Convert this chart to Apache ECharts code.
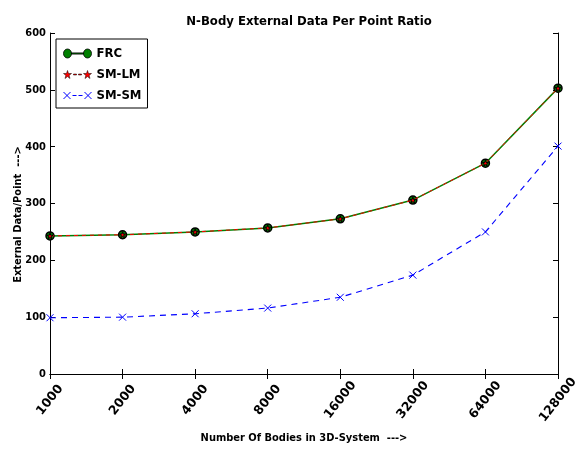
<!DOCTYPE html>
<html>
<head>
<meta charset="utf-8">
<script src="https://cdn.jsdelivr.net/npm/echarts@6/dist/echarts.min.js"></script>
<style>
  html, body { margin: 0; padding: 0; background: #fff; }
  #chart { width: 587px; height: 450px; }
</style>
</head>
<body>
<div id="chart"></div>
<script>
// Problem sizes (number of bodies)
const bodies = ['1000', '2000', '4000', '8000', '16000', '32000', '64000', '128000'];
// External data per point for each scheme
const frc   = [243, 245, 250, 257, 273, 306, 371, 503];
const smLm  = [243, 245, 250, 257, 273, 306, 371, 503];
const smSm  = [99, 100, 106, 116, 135, 174, 250, 401];
const yTicks = [0, 100, 200, 300, 400, 500, 600];

const FONT = 'DejaVu Sans Condensed, DejaVu Sans';
const FONT_WIDE = 'DejaVu Sans';
const starPath = 'path://M50,0 L61,35 L98,35 L68,57 L79,91 L50,70 L21,91 L32,57 L2,35 L39,35 Z';
const crossPath = 'path://M0,0 L10,10 M10,0 L0,10';

// Legend glyphs: a short line segment with a marker at each end (28 x 9 box)
const legendFrc = 'path://M0,4.5 A4,4.5 0 1,0 8,4.5 A4,4.5 0 1,0 0,4.5 Z ' +
  'M8,3.9 L20,3.9 L20,5.1 L8,5.1 Z ' +
  'M20,4.5 A4,4.5 0 1,0 28,4.5 A4,4.5 0 1,0 20,4.5 Z';
const legendSmLm = 'path://M4,0.5 L5,3.5 L8,3.5 L5.6,5.4 L6.5,8.5 L4,6.6 L1.5,8.5 L2.4,5.4 L0,3.5 L3,3.5 Z ' +
  'M10,4 L13,4 L13,5 L10,5 Z M15,4 L18,4 L18,5 L15,5 Z ' +
  'M24,0.5 L25,3.5 L28,3.5 L25.6,5.4 L26.5,8.5 L24,6.6 L21.5,8.5 L22.4,5.4 L20,3.5 L23,3.5 Z';
const legendSmSm = 'path://M0,1 L7,8 M7,1 L0,8 M9,4.5 L13,4.5 M15,4.5 L19,4.5 M21,1 L28,8 M28,1 L21,8';

const chart = echarts.init(document.getElementById('chart'));
const axisLine = { show: true, lineStyle: { color: '#000', width: 1 } };
const tickStyle = { show: true, inside: true, length: 5, lineStyle: { color: '#000', width: 1 } };

chart.setOption({
  animation: false,
  backgroundColor: '#fff',
  title: {
    text: 'N-Body External Data Per Point Ratio',
    left: 304, top: 10, textAlign: 'center',
    textStyle: { fontFamily: FONT, fontWeight: 'bold', fontSize: 13, color: '#000' }
  },
  grid: { left: 50, right: 29, top: 33, bottom: 76, containLabel: false, outerBoundsMode: 'none' },
  legend: {
    left: 56, top: 39, orient: 'vertical',
    backgroundColor: '#fff', borderColor: '#000', borderWidth: 1,
    padding: [8, 6, 6, 5], itemGap: 8, itemWidth: 28, itemHeight: 9,
    textStyle: { fontFamily: FONT, fontWeight: 'bold', fontSize: 13, color: '#000' },
    data: [
      { name: 'FRC', icon: legendFrc, itemStyle: { color: '#008000', borderColor: '#000', borderWidth: 0.8 } },
      { name: 'SM-LM', icon: legendSmLm, itemStyle: { color: '#ff0000', borderColor: '#000', borderWidth: 0.5 } },
      { name: 'SM-SM', icon: legendSmSm, itemStyle: { color: 'none', borderColor: '#0000ff', borderWidth: 1 } }
    ]
  },
  xAxis: [{
    type: 'category', data: bodies, boundaryGap: false,
    name: 'Number Of Bodies in 3D-System  --->', nameLocation: 'middle', nameGap: 59,
    nameTextStyle: { fontFamily: FONT, fontWeight: 'bold', fontSize: 11, color: '#000' },
    axisLine, axisTick: tickStyle,
    axisLabel: { rotate: 52, margin: 26, align: 'center', verticalAlign: 'middle',
      fontFamily: FONT_WIDE, fontWeight: 'bold', fontSize: 12.5, color: '#000' },
    splitLine: { show: false }
  }, {
    type: 'category', data: bodies, boundaryGap: false, position: 'top',
    axisLine, axisTick: tickStyle, axisLabel: { show: false }, splitLine: { show: false }
  }],
  yAxis: [{
    type: 'value', min: 0, max: 600, interval: 100,
    name: 'External Data/Point  --->', nameLocation: 'middle', nameGap: 26,
    nameMoveOverlap: false,
    nameTextStyle: { fontFamily: FONT, fontWeight: 'bold', fontSize: 11, color: '#000', padding: [0, 22, 0, 0] },
    axisLine, axisTick: tickStyle,
    axisLabel: { margin: 4, fontFamily: FONT, fontWeight: 'bold', fontSize: 11, color: '#000',
      formatter: v => yTicks.includes(v) ? String(v) : '' },
    splitLine: { show: false }
  }, {
    type: 'value', min: 0, max: 600, interval: 100, position: 'right',
    axisLine, axisTick: tickStyle, axisLabel: { show: false }, splitLine: { show: false }
  }],
  series: [{
    name: 'FRC', type: 'line', data: frc, z: 2,
    symbol: 'circle', symbolSize: 8,
    itemStyle: { color: '#008000', borderColor: '#000', borderWidth: 1.5 },
    lineStyle: { color: '#008000', width: 1.5 }
  }, {
    name: 'SM-LM', type: 'line', data: smLm, z: 3,
    symbol: starPath, symbolSize: 6,
    itemStyle: { color: '#ff0000', borderColor: '#000', borderWidth: 1 },
    lineStyle: { color: '#ff0000', width: 1, type: [4, 4] }
  }, {
    name: 'SM-SM', type: 'line', data: smSm, z: 3,
    symbol: crossPath, symbolSize: 7,
    itemStyle: { color: 'none', borderColor: '#0000ff', borderWidth: 1 },
    lineStyle: { color: '#0000ff', width: 1.1, type: [6, 5] }
  }]
});
</script>
</body>
</html>
